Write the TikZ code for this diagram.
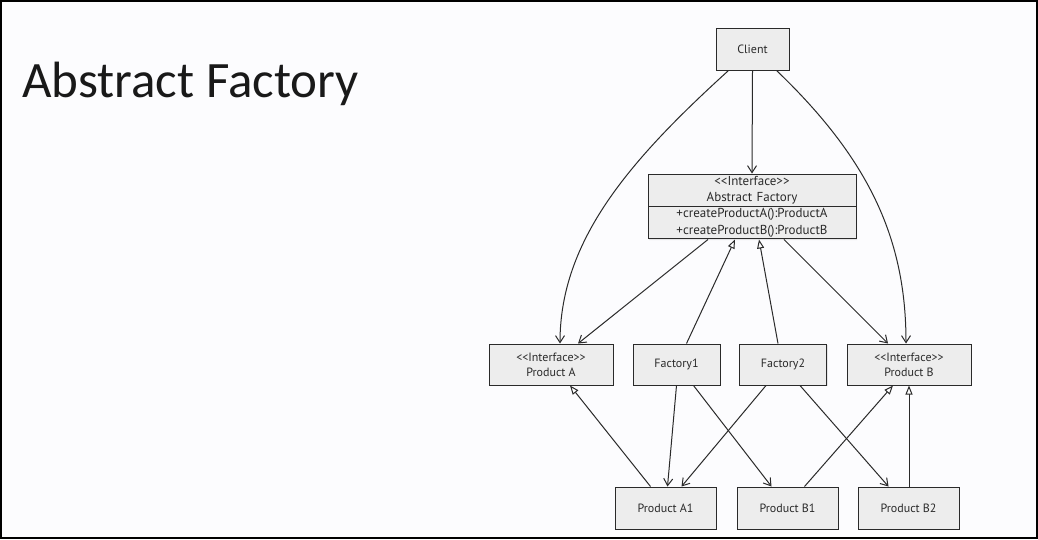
\documentclass[tikz,border=0pt]{standalone}
\usepackage{fontspec}
\setmainfont{Carlito}
\newfontfamily\boxfont{PT Sans}
\usetikzlibrary{arrows.meta,shapes.multipart,shadows,calc}
\definecolor{ink}{HTML}{2A2A2A}
\definecolor{boxfill}{HTML}{EDEDED}
\definecolor{pagebg}{HTML}{FCFCFE}
\tikzset{
  umlbox/.style={draw=ink, line width=1pt, fill=boxfill, font=\boxfont\fontsize{12}{14}\selectfont, text=ink,
    align=center, inner sep=0pt,
    drop shadow={opacity=0.18, shadow xshift=1.2pt, shadow yshift=-1.2pt}},
  assoc/.style={draw=ink, line width=1pt, -{Straight Barb[length=7pt,width=9pt,line width=1pt]}},
  inherit/.style={draw=ink, line width=1pt, -{Triangle[open,length=9pt,width=7pt,fill=white]}},
}
\begin{document}
\begin{tikzpicture}[x=1pt,y=-1pt]
\fill[pagebg] (0,0) rectangle (1038,539);
\draw[black, line width=2pt] (1,1) rectangle (1037,538);
\useasboundingbox (0,0) rectangle (1038,539);

\node[anchor=base west, inner sep=0pt, font=\fontsize{51}{60}\selectfont, text=black!90] (title) at (22,97) {Abstract Factory};

\node[umlbox, minimum width=73pt, minimum height=42pt] (client) at (752.5,49) {Client};
\node[umlbox, rectangle split, rectangle split parts=2, text width=200pt, inner xsep=4pt, inner ysep=1.5pt,
      font=\boxfont\fontsize{13}{16.5}\selectfont] (af) at (752,206.5)
  {{<}{<}Interface{>}{>}\\Abstract Factory
   \nodepart{two}+createProductA():ProductA\\+createProductB():ProductB};
\node[umlbox, minimum width=124pt, minimum height=41pt] (pa) at (551,364.5) {{<}{<}Interface{>}{>}\\[1pt]Product A};
\node[umlbox, minimum width=87pt, minimum height=41pt] (f1) at (676.5,364.5) {Factory1};
\node[umlbox, minimum width=87pt, minimum height=41pt] (f2) at (783,364.5) {Factory2};
\node[umlbox, minimum width=124pt, minimum height=41pt] (pb) at (909,364.5) {{<}{<}Interface{>}{>}\\[1pt]Product B};
\node[umlbox, minimum width=101pt, minimum height=42pt] (pa1) at (665.5,508) {Product A1};
\node[umlbox, minimum width=101pt, minimum height=42pt] (pb1) at (787.5,508) {Product B1};
\node[umlbox, minimum width=101pt, minimum height=42pt] (pb2) at (908.5,508) {Product B2};

% client associations
\draw[assoc] (client.south) -- (af.north);
\draw[assoc] ([xshift=-24pt]client.south) .. controls (630,160) and (560,240) .. ([xshift=9pt]pa.north);
\draw[assoc] ([xshift=24pt]client.south) .. controls (870,160) and (906,240) .. ([xshift=-3pt]pb.north);
% abstract factory associations
\draw[assoc] ([xshift=-44pt]af.south) -- ([xshift=27pt]pa.north);
\draw[assoc] ([xshift=32pt]af.south) -- ([xshift=-21pt]pb.north);
% factories implement abstract factory
\draw[inherit] ([xshift=10pt]f1.north) -- ([xshift=-17pt]af.south);
\draw[inherit] ([xshift=-5pt]f2.north) -- ([xshift=7pt]af.south);
% factories create products
\draw[assoc] (f1.south) -- ([xshift=2pt]pa1.north);
\draw[assoc] ([xshift=17pt]f1.south) -- ([xshift=-16pt]pb1.north);
\draw[assoc] ([xshift=-17pt]f2.south) -- ([xshift=16pt]pa1.north);
\draw[assoc] ([xshift=17pt]f2.south) -- ([xshift=-20pt]pb2.north);
% products implement interfaces
\draw[inherit] ([xshift=-15pt]pa1.north) -- ([xshift=19pt]pa.south);
\draw[inherit] ([xshift=17pt]pb1.north) -- ([xshift=-16pt]pb.south);
\draw[inherit] ([xshift=0.5pt]pb2.north) -- (pb.south);
\end{tikzpicture}
\end{document}
